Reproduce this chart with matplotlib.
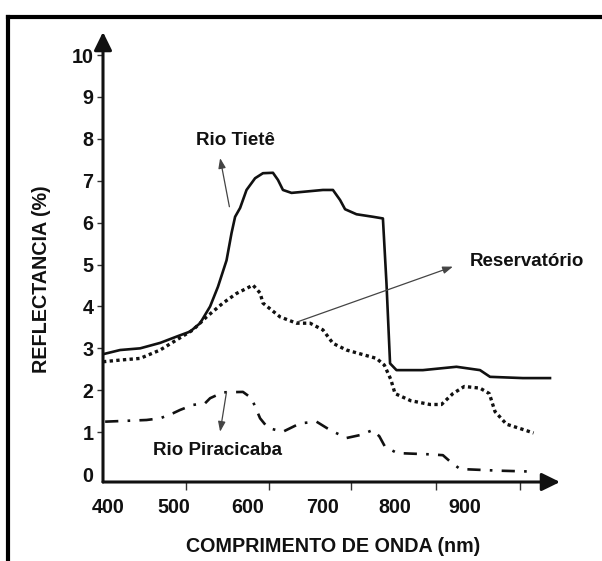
import matplotlib
matplotlib.use("Agg")
import matplotlib.pyplot as plt
from matplotlib.lines import Line2D

# ---------------- data ----------------
tiete_nm = [393, 417, 445, 473, 496, 515, 529, 543, 554, 566, 573, 578, 585, 594,
            606, 617, 631, 638, 645, 657, 701, 715, 725, 732, 748, 771, 785, 790,
            795, 804, 841, 888, 921, 935, 981, 1019]
tiete_refl = [2.86, 2.96, 3.00, 3.13, 3.28, 3.40, 3.60, 4.00, 4.47, 5.10, 5.75, 6.14,
              6.35, 6.78, 7.06, 7.18, 7.19, 7.02, 6.78, 6.71, 6.78, 6.78, 6.54, 6.32,
              6.20, 6.14, 6.10, 4.55, 2.64, 2.48, 2.48, 2.56, 2.48, 2.32, 2.29, 2.29]

reserv_nm = [393, 417, 445, 473, 496, 519, 538, 561, 580, 594, 603, 613, 617, 641,
             664, 683, 701, 715, 734, 776, 787, 796, 802, 824, 851, 867, 883, 899,
             921, 934, 942, 958, 980, 996]
reserv_refl = [2.68, 2.72, 2.76, 2.96, 3.20, 3.44, 3.75, 4.08, 4.31, 4.43, 4.51, 4.32,
               4.08, 3.75, 3.60, 3.60, 3.44, 3.12, 2.96, 2.76, 2.60, 2.26, 1.92, 1.75,
               1.66, 1.66, 1.92, 2.09, 2.05, 1.92, 1.49, 1.19, 1.07, 0.98]

pirac_nm = [396, 454, 473, 491, 501, 519, 536, 543, 561, 589, 601, 613, 624, 645,
            669, 692, 711, 734, 753, 771, 780, 788, 805, 851, 869, 879, 893, 948, 991]
pirac_refl = [1.25, 1.29, 1.33, 1.45, 1.53, 1.65, 1.69, 1.81, 1.95, 1.96, 1.81, 1.33,
              1.10, 1.01, 1.21, 1.25, 1.05, 0.86, 0.93, 1.05, 0.90, 0.65, 0.50, 0.47,
              0.45, 0.30, 0.12, 0.08, 0.06]

xtick_labels = ["400", "500", "600", "700", "800", "900"]
xtick_label_nm = [400, 492, 596, 701, 802, 900]      # where the printed labels sit
xtick_mark_nm = [509, 625, 741, 859, 977]            # where the printed tick marks sit
ytick_values = list(range(0, 11))

x_label = "COMPRIMENTO DE ONDA (nm)"
y_label = "REFLECTANCIA (%)"

# ---------------- figure ----------------
W, H = 602, 561
fig = plt.figure(figsize=(W / 100, H / 100), dpi=100)
fig.patch.set_facecolor("white")
FONT = "Liberation Sans"
FS = 13.5
FS_AX = 14.2
INK = "#111111"

left, right, top, bottom = 103, 560, 32, 482
ax = fig.add_axes([left / W, 1 - bottom / H, (right - left) / W, (bottom - top) / H])
ax.set_xlim(393, 1033)
ax.set_ylim(-0.19, 10.55)
for s in ax.spines.values():
    s.set_visible(False)
ax.patch.set_alpha(0)

# curves
ax.plot(tiete_nm, tiete_refl, color=INK, lw=1.9, solid_joinstyle="round")
ax.plot(reserv_nm, reserv_refl, color=INK, lw=2.4, linestyle=(0, (1, 1.0)))
ax.plot(pirac_nm, pirac_refl, color=INK, lw=1.9, linestyle=(0, (5, 3.5, 1, 3.5)))

# axes with arrowheads
arrow_kw = dict(arrowstyle="-|>,head_length=11,head_width=5.4", color=INK, lw=2.2,
                shrinkA=0, shrinkB=0, mutation_scale=1)
ax.annotate("", xy=(1, 0), xytext=(0, 0), xycoords="axes fraction",
            textcoords="axes fraction", arrowprops=arrow_kw, annotation_clip=False)
ax.annotate("", xy=(0, 1), xytext=(0, 0), xycoords="axes fraction",
            textcoords="axes fraction", arrowprops=arrow_kw, annotation_clip=False)

# ticks
ax.set_yticks(ytick_values)
ax.set_yticklabels([str(v) for v in ytick_values], fontfamily=FONT,
                   fontweight="bold", fontsize=FS_AX, color=INK)
ax.tick_params(axis="y", direction="out", length=4.5, width=1.0, color="#333333", pad=2.5)
ax.yaxis.get_major_ticks()[0].tick1line.set_visible(False)

ax.set_xticks(xtick_label_nm)
ax.set_xticklabels(xtick_labels, fontfamily=FONT, fontweight="bold", fontsize=FS_AX, color=INK)
ax.tick_params(axis="x", which="major", length=0, pad=11.5)
ax.set_xticks(xtick_mark_nm, minor=True)
ax.tick_params(axis="x", which="minor", direction="out", length=6, width=1.0, color="#333333")

# annotations
ann_arrow = dict(arrowstyle="-|>,head_length=0.6,head_width=0.22", color="#444444",
                 lw=0.9, shrinkA=0, shrinkB=0, mutation_scale=10)
ax.text(579, 7.95, "Rio Tietê", ha="center", va="center", fontfamily=FONT,
        fontweight="bold", fontsize=FS, color=INK)
ax.annotate("", xy=(557, 7.54), xytext=(570, 6.38), arrowprops=ann_arrow)
ax.text(987, 5.08, "Reservatório", ha="center", va="center", fontfamily=FONT,
        fontweight="bold", fontsize=FS, color=INK)
ax.annotate("", xy=(883, 4.95), xytext=(665, 3.63), arrowprops=ann_arrow)
ax.text(554, 0.57, "Rio Piracicaba", ha="center", va="center", fontfamily=FONT,
        fontweight="bold", fontsize=FS, color=INK)
ax.annotate("", xy=(557, 1.01), xytext=(566, 1.96), arrowprops=ann_arrow)

# axis titles
fig.text(42 / W, 1 - 279 / H, y_label, rotation=90, ha="center", va="center",
         fontfamily=FONT, fontweight="bold", fontsize=FS_AX, color=INK)
fig.text(333 / W, 1 - 546 / H, x_label, ha="center", va="center",
         fontfamily=FONT, fontweight="bold", fontsize=FS_AX, color=INK)

# outer frame (top and left edges visible)
fig.add_artist(Line2D([8 / W, 8 / W], [0, 1 - 17 / H], transform=fig.transFigure,
                      color="black", lw=3.0, solid_capstyle="projecting"))
fig.add_artist(Line2D([8 / W, 1], [1 - 17 / H, 1 - 17 / H], transform=fig.transFigure,
                      color="black", lw=3.0, solid_capstyle="projecting"))

fig.savefig("out.png", dpi=100, facecolor="white")
